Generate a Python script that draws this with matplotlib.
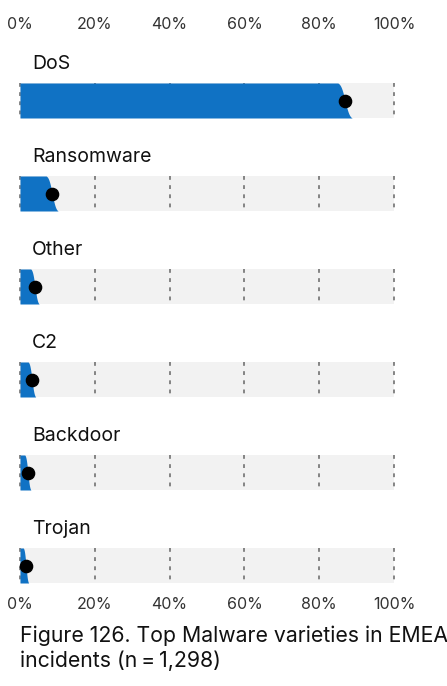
import matplotlib
matplotlib.use("Agg")
import matplotlib.pyplot as plt
import numpy as np
from statistics import NormalDist

plt.rcParams['font.family'] = ['Inter', 'DejaVu Sans']

categories = ["DoS", "Ransomware", "Other", "C2", "Backdoor", "Trojan"]
values = [0.869, 0.086, 0.040, 0.032, 0.021, 0.016]
n_incidents = 1298
tick_values = [0, 0.2, 0.4, 0.6, 0.8, 1.0]
tick_labels = ["0%", "20%", "40%", "60%", "80%", "100%"]
title = "Figure 126. Top Malware varieties in EMEA\nincidents (n\u2009=\u20091,298)"

BLUE = "#1072c4"
BG = "#f2f2f2"
GRID = "#666666"

W, H = 447, 686
fig = plt.figure(figsize=(W / 100, H / 100), dpi=100)

ax_left, ax_right = 20, 394
ax_top, ax_bot = 40, 585
ax = fig.add_axes([ax_left / W, 1 - ax_bot / H, (ax_right - ax_left) / W, (ax_bot - ax_top) / H])

row_px = 93.0
first_center = 100.5
ytop = -(first_center - ax_top) / row_px
ybot = ytop + (ax_bot - ax_top) / row_px
ax.set_xlim(0, 1)
ax.set_ylim(ybot, ytop)

half = 35 / row_px / 2
nd = NormalDist()
for i, (cat, v) in enumerate(zip(categories, values)):
    # background bar
    ax.fill_between([0, 1], i - half, i + half, color=BG, lw=0, zorder=1)
    # dashed gridlines within bar
    for t in tick_values:
        ax.plot([t, t], [i - half, i + half], color=GRID, lw=1.1,
                dashes=(2.5, 3.5), zorder=2, solid_capstyle='butt', clip_on=False)
    # distribution fill: quantiles of estimate from top to bottom
    se = np.sqrt(v * (1 - v) / n_incidents)
    q = np.linspace(0.02, 0.98, 80)
    xs = np.array([max(0.0, v + se * nd.inv_cdf(p)) for p in q])
    ys = np.linspace(i - half, i + half, len(q))
    ax.fill_betweenx(ys, 0, xs, color=BLUE, lw=0, zorder=3)
    ax.plot([v], [i], 'o', color='black', ms=8.8, zorder=4, clip_on=False)
    ax.text(0.032, i - 0.39, cat, fontsize=14, color='#111111', va='center', ha='left')

for s in ax.spines.values():
    s.set_visible(False)
ax.set_yticks([])
ax.set_xticks(tick_values)
ax.set_xticklabels(tick_labels)
ax.tick_params(axis='x', length=0, labeltop=False, labelbottom=True, labelsize=11.5,
               labelcolor='#333333', pad=8.5)

axt = ax.twiny()
axt.set_xlim(ax.get_xlim())
axt.set_xticks(tick_values)
axt.set_xticklabels(tick_labels)
axt.tick_params(axis='x', length=0, labelsize=11.5, labelcolor='#333333', pad=5.5)
for s in axt.spines.values():
    s.set_visible(False)

fig.text(20 / W, 1 - 626 / H, title, fontsize=15.3, color='#111111', va='top', ha='left',
         linespacing=1.25)

fig.savefig("out.png", dpi=100)
